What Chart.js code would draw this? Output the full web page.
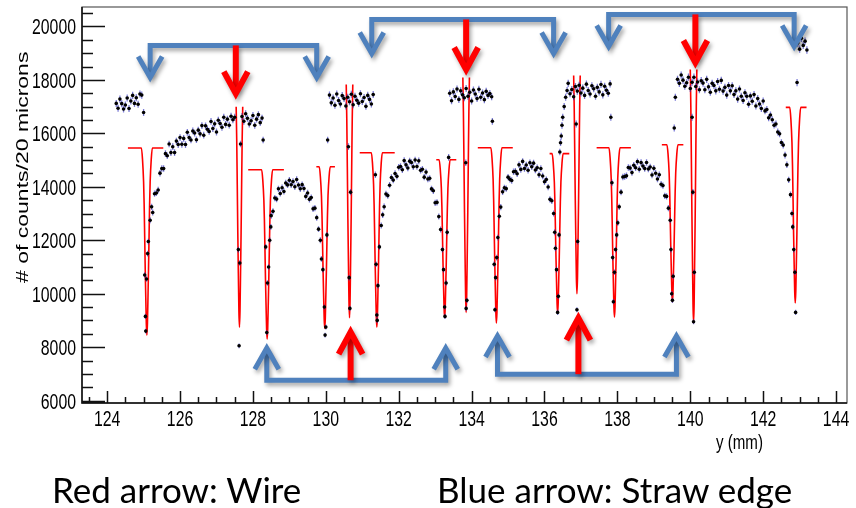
<!DOCTYPE html>
<html>
<head>
<meta charset="utf-8">
<title>Straw scan</title>
<script src="https://cdn.jsdelivr.net/npm/chart.js@4.4.1/dist/chart.umd.min.js"></script>
<style>
  body { margin: 0; background: #fff; }
  #box { position: relative; width: 856px; height: 508px; overflow: hidden; }
  #chart { position: absolute; left: 0; top: 0; }
  .caption { position: absolute; top: 472px; font-family: Lato, "Open Sans", sans-serif; font-size: 35px; line-height: 1; color: #000; white-space: nowrap; }
</style>
</head>
<body>
<div id="box">
  <canvas id="chart" width="856" height="508"></canvas>
  <div class="caption" style="left: 52px;">Red arrow: Wire</div>
  <div class="caption" style="left: 437px;">Blue arrow: Straw edge</div>
</div>
<script>
// axis labels
const xTicks = [124, 126, 128, 130, 132, 134, 136, 138, 140, 142, 144];
const yTicks = [6000, 8000, 10000, 12000, 14000, 16000, 18000, 20000];

// counts per 20 micron bin, every 0.05 mm
const binWidth = 0.05;
const flat1 = [17120, 16940, 17280, 17110, 16910, 17060, 17320, 16930, 17210, 17420, 17120, 17330, 17090, 17470, 17430];
const rise1 = [13040, 13740, 13770, 13880, 14510, 14680, 14680, 15240, 15160, 15600, 15280, 15500, 15280, 15710, 15580,
  15840, 15590, 15810, 15580, 16040, 15840, 15750, 16090, 16010, 15760, 16120, 15980, 16290, 15930, 16280, 16155, 16070,
  16445, 16180, 16355, 16050, 16490, 16370, 16225, 16600, 16335, 16530, 16305, 16640, 16510, 16600];
const flat2 = [16630, 16450, 16730, 16560, 16350, 16470, 16670, 16300, 16530, 16700, 16400, 16570];
const dome1 = [12920, 13080, 13580, 13540, 13925, 13750, 13965, 13825, 14140, 14070, 14245, 14075, 14200, 14000, 14275,
  14065, 13925, 14080, 13935, 13640, 13770, 13530, 13595, 13175, 13200, 12845, 12415, 12000];
const flat3 = [17430, 17140, 17320, 17050, 17470, 17230, 17100, 17410, 17300, 17020, 17350, 17180, 17460, 17070, 17390,
  17240, 17130, 17480, 17190, 17340, 17010, 17420, 17270, 17100, 17450];
const dome2 = [13255, 13730, 13670, 14060, 14350, 14250, 14495, 14390, 14730, 14760, 14640, 14980, 14820, 14705, 14960,
  14910, 14750, 15000, 14760, 14970, 14615, 14655, 14360, 14550, 14290, 14315, 13920, 13850, 13400, 13415, 12885, 12400];
const flat4 = [17500, 17220, 17550, 17380, 17660, 17270, 17590, 17440, 17330, 17680, 17390, 17540, 17210, 17620, 17470,
  17300, 17650, 17350, 17510, 17260, 17570, 17420, 17490, 17370];
const dome3 = [13240, 13810, 13960, 13930, 14360, 14280, 14235, 14560, 14580, 14490, 14820, 14650, 14950, 14685, 14815,
  14620, 14900, 14750, 14885, 14630, 14710, 14450, 14685, 14405, 14190, 14270, 13990, 13530, 13475, 13000];
const flat5 = [17870, 17480, 17640, 17370, 17750, 17580, 17800, 17510, 17690, 17420, 17840, 17600, 17470, 17780, 17670,
  17390, 17720, 17550, 17830, 17440, 17760, 17610, 17500, 17850];
const dome4 = [13800, 14365, 14385, 14410, 14720, 14700, 14530, 14805, 14710, 14940, 14655, 14905, 14780, 14680, 14910,
  14665, 14740, 14440, 14690, 14505, 14290, 14450, 14095, 14045, 13660, 13640, 13200];
const fall1 = [18020, 17870, 18180, 17990, 17760, 17890, 18100, 17680, 17910, 18100,
  17750, 17920, 17630, 17970, 17880, 17630, 18020, 17740, 17540, 17870,
  17790, 17590, 17940, 17650, 17980, 17580, 17720, 17430, 17790, 17590,
  17780, 17450, 17590, 17280, 17660, 17390, 17230, 17520, 17390, 17090,
  17400, 17200, 17450, 17020, 17300, 17100, 16930, 17210, 16840, 16890,
  16580, 16685, 16510, 16305, 16350, 16050, 15980, 15655, 15560, 15185,
  14820, 14260, 13705];
const flat6 = [19380, 19150, 19560, 19290, 19450, 19120];

const segStarts = [124.25, 125.25, 127.70, 128.50, 130.10, 131.60, 133.40, 134.80, 136.65, 138.10, 139.65, 142.95];
const segCounts = [flat1, rise1, flat2, dome1, flat3, dome2, flat4, dome3, flat5, dome4, fall1, flat6];

// single bins in the dips and at the edges: [y (mm), counts]
const dipPoints = [
  [125.00, 16780], [125.03, 10700], [125.05, 9150], [125.06, 8600], [125.08, 10550], [125.11, 11500], [125.13, 11950],
  [125.18, 12750], [125.22, 13250],
  [127.60, 11650], [127.62, 8050], [127.64, 11150], [127.66, 15600],
  [128.28, 15750], [128.35, 11750], [128.38, 8550], [128.40, 10400], [128.43, 11000], [128.46, 12000], [128.49, 12500],
  [129.88, 11300], [129.92, 10900], [129.96, 9500], [129.98, 8450], [130.00, 8750], [130.03, 12200], [130.05, 15750],
  [130.62, 15500], [130.64, 10600], [130.66, 9450], [130.68, 13800],
  [131.36, 14450], [131.38, 11100], [131.40, 9200], [131.41, 9000], [131.43, 10300], [131.47, 11750], [131.52, 12550],
  [131.56, 12950],
  [133.20, 11650], [133.23, 10900], [133.26, 9500], [133.27, 9150], [133.30, 10400], [133.33, 12300], [133.37, 15100],
  [133.84, 14900], [133.85, 9450], [133.87, 9750],
  [134.57, 16450], [134.62, 11100], [134.64, 9400], [134.66, 10600], [134.69, 11350], [134.72, 12100], [134.76, 12900],
  [136.28, 12300], [136.30, 11700], [136.33, 10900], [136.36, 9300], [136.38, 9900], [136.40, 12200],
  [136.42, 15300], [136.44, 15650], [136.46, 15900], [136.48, 16300], [136.50, 16600], [136.54, 17000], [136.58, 17350],
  [136.62, 17600],
  [136.87, 16350], [136.89, 9400], [136.91, 11950],
  [137.82, 16600], [137.85, 14150], [137.87, 11350], [137.89, 9700], [137.92, 10800], [137.95, 11650], [137.98, 12200],
  [138.01, 12650], [138.05, 13250],
  [139.45, 12750], [139.47, 11650], [139.49, 10000], [139.51, 9750], [139.53, 10650], [139.56, 16200], [139.59, 17350],
  [140.05, 16600], [140.07, 13800], [140.09, 8950], [140.11, 10800],
  [142.79, 13000], [142.81, 12500], [142.84, 11650], [142.87, 10800], [142.89, 9300], [142.93, 17900]
];

// fits at the straw edges: centre, flat level, bottom, fit range
const edgeCenter = [125.09, 128.39, 129.97, 131.40, 133.26, 134.68, 136.36, 137.92, 139.51, 142.88];
const edgeBase = [15450, 14640, 14750, 15275, 15010, 15460, 15240, 15460, 15575, 16970];
const edgeMin = [8450, 8300, 8700, 8750, 9100, 8900, 9275, 9125, 9690, 9650];
const edgeLo = [124.57, 127.87, 129.74, 130.93, 133.03, 134.17, 136.14, 137.43, 139.22, 142.62];
const edgeHi = [125.54, 128.85, 130.25, 131.89, 133.58, 135.13, 136.68, 138.37, 139.81, 143.19];
// fits at the wires (narrow range, top of the curve cut off)
const wireCenter = [127.63, 130.65, 133.85, 136.89, 140.09];
const wireBase = [18800, 19740, 20020, 19960, 20470];
const wireMin = [8750, 9100, 9300, 10000, 8900];
// dip shape: offset from centre (mm) and fraction of depth
const dipOffset = [-0.15, -0.12, -0.09, -0.075, -0.06, -0.045, -0.03, -0.015, 0, 0.015, 0.03, 0.045, 0.06, 0.075, 0.09, 0.12, 0.15];
const dipDepth = [0, 0.06, 0.18, 0.3, 0.47, 0.65, 0.8, 0.94, 1, 0.94, 0.8, 0.65, 0.47, 0.3, 0.18, 0.06, 0];

// arrows (in plot units): blue brackets and red wire arrows
const bracketLeft = [125.18, 131.26, 137.76, 128.38, 134.71];
const bracketRight = [129.75, 136.25, 142.85, 133.29, 139.62];
const bracketLine = [19290, 20262, 20450, 6762, 6987];
const bracketTip = [18087, 18990, 19250, 7962, 8420];
const wireArrowX = [127.53, 133.85, 140.14, 130.68, 136.93];
const wireArrowTip = [17487, 18387, 18650, 8562, 9087];

const points = [];
segStarts.forEach((x0, s) => {
  segCounts[s].forEach((c, i) => points.push({ x: +(x0 + i * binWidth).toFixed(2), y: c }));
});
dipPoints.forEach((p) => points.push({ x: p[0], y: p[1] }));
points.sort((a, b) => a.x - b.x);

const fits = [];
edgeCenter.forEach((c, i) => {
  const pts = [{ x: edgeLo[i], y: edgeBase[i] }];
  dipOffset.forEach((o, k) => {
    pts.push({ x: c + o, y: edgeBase[i] - dipDepth[k] * (edgeBase[i] - edgeMin[i]) });
  });
  pts.push({ x: edgeHi[i], y: edgeBase[i] });
  fits.push(pts);
});
wireCenter.forEach((c, i) => {
  const pts = [];
  dipOffset.forEach((o, k) => {
    if (Math.abs(o) < 0.0901) pts.push({ x: c + o, y: wireBase[i] - dipDepth[k] * (wireBase[i] - wireMin[i]) });
  });
  fits.push(pts);
});

const datasets = [{
  data: points,
  showLine: false,
  pointRadius: 1.8,
  pointHoverRadius: 0,
  pointBackgroundColor: "#000",
  pointBorderWidth: 0,
}];
fits.forEach((pts) => {
  datasets.push({
    data: pts,
    showLine: true,
    borderColor: "#ff0000",
    borderWidth: 1.6,
    pointRadius: 0,
    fill: false,
    cubicInterpolationMode: "monotone",
  });
});

function head(ctx, x, y, dir, w, h) {
  ctx.moveTo(x - w, y - dir * h);
  ctx.lineTo(x, y);
  ctx.lineTo(x + w, y - dir * h);
}

// ROOT-like text: Helvetica squeezed sideways
function squeezed(ctx, text, px, py, align) {
  ctx.save();
  ctx.translate(px, py);
  ctx.scale(0.72, 1);
  ctx.textAlign = align;
  ctx.fillText(text, 0, 0);
  ctx.restore();
}

const rootStyle = {
  id: "rootStyle",
  beforeDatasetDraw(chart, args) {
    if (args.index !== 0) return;
    const ctx = chart.ctx;
    const y = chart.scales.y;
    ctx.save();
    ctx.strokeStyle = "rgba(40,40,190,0.6)";
    ctx.lineWidth = 1.3;
    ctx.beginPath();
    args.meta.data.forEach((el, i) => {
      const v = points[i].y;
      const e = Math.sqrt(v);
      ctx.moveTo(el.x, y.getPixelForValue(v + e));
      ctx.lineTo(el.x, y.getPixelForValue(v - e));
    });
    ctx.stroke();
    ctx.restore();
  },
  afterDatasetsDraw(chart) {
    const ctx = chart.ctx;
    const x = chart.scales.x;
    const y = chart.scales.y;
    ctx.save();
    ctx.shadowColor = "rgba(0,0,0,0.35)";
    ctx.shadowBlur = 4;
    ctx.shadowOffsetX = 2;
    ctx.shadowOffsetY = 3;
    ctx.lineJoin = "miter";
    // blue brackets
    ctx.strokeStyle = "#4f81bd";
    ctx.lineWidth = 5;
    bracketLeft.forEach((xl, i) => {
      const pl = x.getPixelForValue(xl);
      const pr = x.getPixelForValue(bracketRight[i]);
      const py = y.getPixelForValue(bracketLine[i]);
      const pt = y.getPixelForValue(bracketTip[i]);
      const dir = pt > py ? 1 : -1;
      ctx.beginPath();
      ctx.moveTo(pl, pt - dir * 3);
      ctx.lineTo(pl, py);
      ctx.lineTo(pr, py);
      ctx.lineTo(pr, pt - dir * 3);
      ctx.stroke();
      ctx.beginPath();
      head(ctx, pl, pt, dir, 12, 21);
      ctx.stroke();
      ctx.beginPath();
      head(ctx, pr, pt, dir, 12, 21);
      ctx.stroke();
    });
    // red arrows
    ctx.strokeStyle = "#ff0000";
    ctx.lineWidth = 6;
    wireArrowX.forEach((xv, i) => {
      const px = x.getPixelForValue(xv);
      const py = y.getPixelForValue(bracketLine[i]);
      const pt = y.getPixelForValue(wireArrowTip[i]);
      const dir = pt > py ? 1 : -1;
      ctx.beginPath();
      ctx.moveTo(px, py);
      ctx.lineTo(px, pt - dir * 3);
      ctx.stroke();
      ctx.beginPath();
      head(ctx, px, pt, dir, 12, 22);
      ctx.stroke();
    });
    ctx.restore();
  },
  afterDraw(chart) {
    const ctx = chart.ctx;
    const a = chart.chartArea;
    const x = chart.scales.x;
    const y = chart.scales.y;
    ctx.save();
    // frame
    ctx.strokeStyle = "#555";
    ctx.lineWidth = 1.2;
    ctx.strokeRect(a.left, a.top, a.right - a.left, a.bottom - a.top);
    ctx.strokeStyle = "#111";
    ctx.lineWidth = 1.5;
    ctx.beginPath();
    ctx.moveTo(a.left, a.top);
    ctx.lineTo(a.left, a.bottom);
    ctx.lineTo(a.right, a.bottom);
    // ticks inside the frame, ROOT style
    for (let v = 6000; v <= 20500; v += 500) {
      const py = Math.round(y.getPixelForValue(v)) + 0.5;
      ctx.moveTo(a.left, py);
      ctx.lineTo(a.left + (v % 2000 === 0 ? 23 : 11), py);
    }
    for (let k = 247; k <= 288; k++) {
      const px = Math.round(x.getPixelForValue(k / 2)) + 0.5;
      ctx.moveTo(px, a.bottom);
      ctx.lineTo(px, a.bottom - (k % 4 === 0 ? 12 : 6));
    }
    ctx.stroke();
    // tick labels from the scales
    ctx.fillStyle = "#000";
    ctx.font = '22px "Liberation Sans", Arial, sans-serif';
    ctx.textBaseline = "alphabetic";
    y.ticks.forEach((t) => squeezed(ctx, String(t.value), a.left - 6, y.getPixelForValue(t.value) + 8, "right"));
    x.ticks.forEach((t) => squeezed(ctx, String(t.value), x.getPixelForValue(t.value), a.bottom + 23, "center"));
    // axis titles
    ctx.font = '21px "Liberation Sans", Arial, sans-serif';
    squeezed(ctx, "y (mm)", 763, 449, "right");
    ctx.font = '23px "Liberation Sans", Arial, sans-serif';
    ctx.textAlign = "left";
    ctx.translate(28, 283);
    ctx.rotate(-Math.PI / 2);
    ctx.scale(1, 0.75);
    ctx.fillText("# of counts/20 microns", 0, 0);
    ctx.restore();
  },
};

new Chart(document.getElementById("chart").getContext("2d"), {
  type: "scatter",
  data: { datasets: datasets },
  plugins: [rootStyle],
  options: {
    responsive: false,
    animation: false,
    events: [],
    layout: { padding: { top: 7, right: 9, left: 0, bottom: 0 } },
    plugins: { legend: { display: false }, tooltip: { enabled: false } },
    scales: {
      x: {
        type: "linear",
        min: 123.31,
        max: 144.3,
        afterBuildTicks: (s) => { s.ticks = xTicks.map((v) => ({ value: v })); },
        afterFit: (s) => { s.height = 105; },
        grid: { display: false, drawTicks: false },
        border: { display: false },
        ticks: { display: false },
      },
      y: {
        type: "linear",
        min: 5910,
        max: 20727,
        afterBuildTicks: (s) => { s.ticks = yTicks.map((v) => ({ value: v })); },
        afterFit: (s) => { s.width = 82; },
        grid: { display: false, drawTicks: false },
        border: { display: false },
        ticks: { display: false },
      },
    },
  },
});
</script>
</body>
</html>
